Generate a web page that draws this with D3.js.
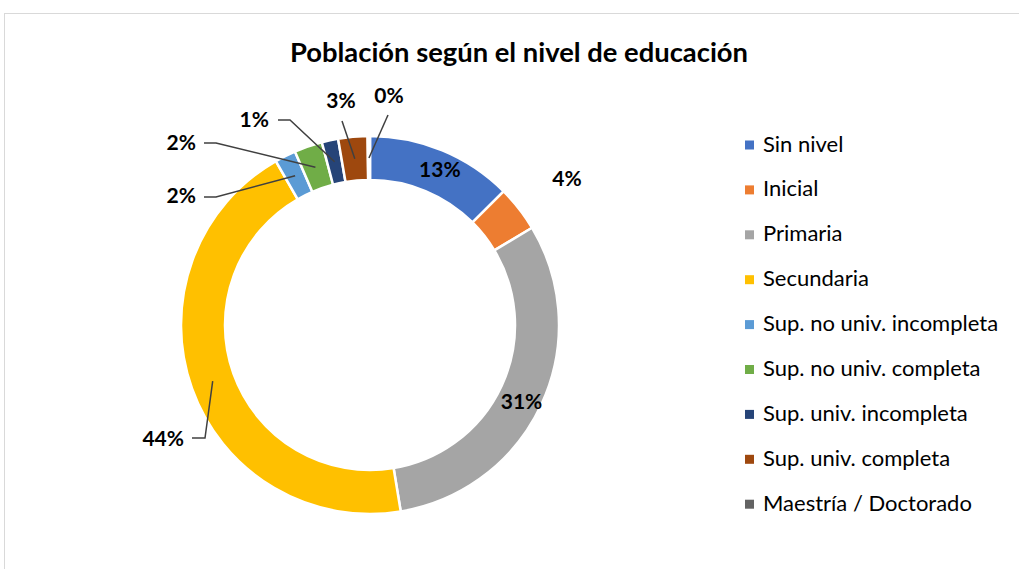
<!DOCTYPE html>
<html>
<head>
<meta charset="utf-8">
<script src="https://cdn.jsdelivr.net/npm/d3@7"></script>
<style>
    body { margin: 0; background: #fff; }
    svg { display: block; font-family: Lato, "Open Sans", sans-serif; }
</style>
</head>
<body>
<svg id="chart" width="1019" height="569"></svg>
<script>
// data
const categories = ["Sin nivel", "Inicial", "Primaria", "Secundaria", "Sup. no univ. incompleta",
    "Sup. no univ. completa", "Sup. univ. incompleta", "Sup. univ. completa", "Maestría / Doctorado"];
const values = [12.5, 3.9, 31.0, 44.3, 1.8, 2.4, 1.4, 2.5, 0.2];
const colors = ["#4472C4", "#ED7D31", "#A5A5A5", "#FFC000", "#5B9BD5", "#70AD47", "#264478", "#9E480E", "#636363"];

// label placement (layout only): inside = at centroid, otherwise text position + leader
const labelLayout = [
    { inside: true, dx: 6, dy: 1 },
    { x: 567, y: 181 },
    { inside: true, dx: 0, dy: 8 },
    { x: 184, y: 441, anchor: "end", leader: [[192, 438], [205, 438]] },
    { x: 196, y: 198, anchor: "end", leader: [[204, 197], [216, 197]] },
    { x: 196, y: 145, anchor: "end", leader: [[204, 143], [216, 143]] },
    { x: 269, y: 122, anchor: "end", leader: [[278, 120], [290, 120]] },
    { x: 341, y: 103, leader: [[342, 121]] },
    { x: 389, y: 98, leader: [[388, 115]] }
];

const svg = d3.select("#chart");

// chart frame
svg.append("rect")
    .attr("x", 4.5).attr("y", 13.5)
    .attr("width", 1030).attr("height", 570)
    .attr("fill", "#fff")
    .attr("stroke", "#d9d9d9");

svg.append("text")
    .attr("x", 519).attr("y", 62)
    .attr("text-anchor", "middle")
    .style("font-size", "26px")
    .style("font-weight", "bold")
    .attr("fill", "#000")
    .attr("textLength", 458)
    .attr("lengthAdjust", "spacingAndGlyphs")
    .text("Población según el nivel de educación");

const cx = 370, cy = 325;
const outerR = 189, innerR = 145;

const data = categories.map((c, i) => ({ name: c, value: values[i], color: colors[i] }));

const pie = d3.pie().value(d => d.value).sort(null);
const arc = d3.arc().innerRadius(innerR).outerRadius(outerR);
const arcs = pie(data);

const g = svg.append("g").attr("transform", `translate(${cx},${cy})`);

g.selectAll("path.slice")
    .data(arcs)
    .enter()
    .append("path")
    .attr("class", "slice")
    .attr("d", arc)
    .attr("fill", d => d.data.color)
    .attr("stroke", "#fff")
    .attr("stroke-width", 2.5)
    .attr("stroke-linejoin", "round");

// data labels
arcs.forEach((a, i) => {
    const lay = labelLayout[i];
    const txt = Math.round(a.data.value) + "%";
    const c = arc.centroid(a);
    if (lay.inside) {
        svg.append("text")
            .attr("x", cx + c[0] + lay.dx)
            .attr("y", cy + c[1] + lay.dy)
            .attr("text-anchor", "middle")
            .attr("dominant-baseline", "middle")
            .style("font-size", "21px")
            .style("font-weight", "bold")
            .text(txt);
        return;
    }
    if (lay.leader) {
        const pts = lay.leader.concat([[cx + c[0], cy + c[1]]]);
        svg.append("path")
            .attr("d", d3.line()(pts))
            .attr("fill", "none")
            .attr("stroke", "#404040")
            .attr("stroke-width", 1.5);
    }
    svg.append("text")
        .attr("x", lay.x)
        .attr("y", lay.y)
        .attr("text-anchor", lay.anchor || "middle")
        .attr("dominant-baseline", "middle")
        .style("font-size", "21px")
        .style("font-weight", "bold")
        .text(txt);
});

// legend
const legend = svg.append("g").attr("transform", "translate(745,145)");
const rows = legend.selectAll("g")
    .data(data)
    .enter()
    .append("g")
    .attr("transform", (d, i) => `translate(0,${i * 44.9})`);

rows.append("rect")
    .attr("x", 0).attr("y", -4.5)
    .attr("width", 9).attr("height", 9)
    .attr("fill", d => d.color);

rows.append("text")
    .attr("x", 18).attr("y", 1)
    .attr("dominant-baseline", "middle")
    .style("font-size", "22px")
    .attr("fill", "#000")
    .text(d => d.name);
</script>
</body>
</html>
